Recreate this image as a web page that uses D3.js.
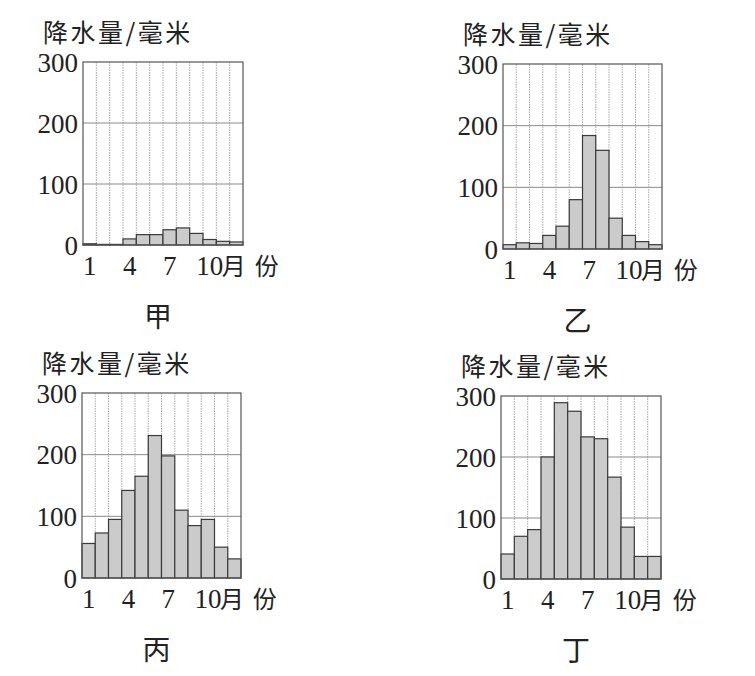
<!DOCTYPE html>
<html>
<head>
<meta charset="utf-8">
<script src="https://cdn.jsdelivr.net/npm/d3@7/dist/d3.min.js"></script>
<style>
  html, body { margin: 0; padding: 0; background: #fff; }
  svg { display: block; }
</style>
</head>
<body>
<svg id="chart" width="755" height="676"></svg>
<script>
// monthly precipitation (mm)
const months = [1, 2, 3, 4, 5, 6, 7, 8, 9, 10, 11, 12];
const monthTicks = [1, 4, 7, 10];
const rainTicks = [0, 100, 200, 300];
const panelNames = ['甲', '乙', '丙', '丁'];
const rainJia = [2, 1, 1, 10, 17, 17, 25, 28, 19, 9, 6, 5];
const rainYi = [7, 10, 9, 22, 37, 80, 184, 160, 50, 22, 12, 7];
const rainBing = [56, 73, 95, 142, 165, 231, 198, 110, 85, 95, 50, 31];
const rainDing = [41, 70, 81, 200, 289, 275, 233, 230, 167, 85, 37, 37];

const CJK = '"Noto Sans CJK SC", "Noto Sans", sans-serif';
const SERIF = '"Liberation Serif", "DejaVu Serif", serif';

// plot boxes of the four panels (left, top, right, bottom)
const boxes = [
  [83, 62, 243, 245],
  [503, 64, 662, 249],
  [82, 393, 241, 578],
  [501, 396, 661, 579],
];
const series = [rainJia, rainYi, rainBing, rainDing];

const svg = d3.select('#chart');

function drawPanel(box, values, name) {
  const [x0, y0, x1, y1] = box;
  const g = svg.append('g');
  const x = d3.scaleBand().domain(months).range([x0, x1]).padding(0);
  const y = d3.scaleLinear().domain([0, 300]).range([y1, y0]);

  // axis title
  g.append('text').attr('x', x0 - 40).attr('y', y0 - 20)
    .attr('font-family', CJK).attr('font-size', 25).attr('letter-spacing', 2.5)
    .attr('fill', '#222').text('降水量/毫米');

  // vertical grid between months
  g.append('g').selectAll('line').data(months.slice(1)).join('line')
    .attr('x1', (d) => x(d)).attr('x2', (d) => x(d))
    .attr('y1', y0).attr('y2', y1)
    .attr('stroke', '#a8a8a8').attr('stroke-width', 1).attr('stroke-dasharray', '1.5 1');

  // horizontal grid
  g.append('g').selectAll('line').data(rainTicks.slice(1, -1)).join('line')
    .attr('x1', x0).attr('x2', x1).attr('y1', (d) => y(d)).attr('y2', (d) => y(d))
    .attr('stroke', '#8a8a8a').attr('stroke-width', 1);

  // bars
  g.append('g').selectAll('rect').data(values).join('rect')
    .attr('x', (d, i) => x(months[i])).attr('width', x.bandwidth())
    .attr('y', (d) => y(d)).attr('height', (d) => y(0) - y(d))
    .attr('fill', '#cbcbcb').attr('stroke', '#3a3a3a').attr('stroke-width', 1.2);

  // frame
  g.append('rect').attr('x', x0).attr('y', y0).attr('width', x1 - x0).attr('height', y1 - y0)
    .attr('fill', 'none').attr('stroke', '#555').attr('stroke-width', 1.2);

  // y tick labels
  g.append('g').selectAll('text').data(rainTicks).join('text')
    .attr('x', x0 - 5).attr('y', (d) => y(d) + 9.5).attr('text-anchor', 'end')
    .attr('font-family', SERIF).attr('font-size', 27).attr('fill', '#222').text((d) => d);

  // x tick labels
  g.append('g').selectAll('text').data(monthTicks).join('text')
    .attr('x', (d) => x(d) + x.bandwidth() / 2).attr('y', y1 + 30).attr('text-anchor', 'middle')
    .attr('font-family', SERIF).attr('font-size', 27).attr('fill', '#222').text((d) => d);

  g.append('text').attr('x', x(10) + x.bandwidth() / 2 + 12).attr('y', y1 + 30)
    .attr('font-family', CJK).attr('font-size', 24).attr('letter-spacing', 9)
    .attr('fill', '#222').text('月份');

  // panel name
  g.append('text').attr('x', (x0 + x1) / 2 - 5).attr('y', y1 + 82).attr('text-anchor', 'middle')
    .attr('font-family', CJK).attr('font-size', 28).attr('fill', '#222').text(name);
}

boxes.forEach((b, i) => drawPanel(b, series[i], panelNames[i]));
</script>
</body>
</html>
